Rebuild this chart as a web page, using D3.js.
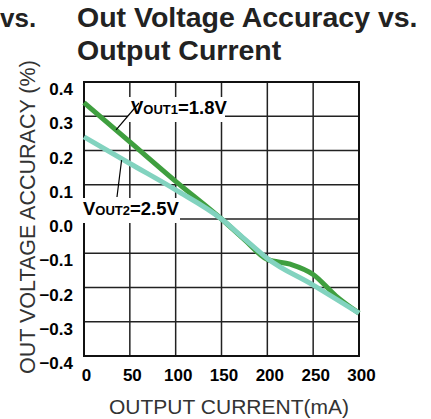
<!DOCTYPE html>
<html>
<head>
<meta charset="utf-8">
<script src="https://cdn.jsdelivr.net/npm/d3@7"></script>
<style>
  body { margin: 0; background: #fff; }
  svg { display: block; font-family: "Liberation Sans", Arial, Helvetica, sans-serif; }
</style>
</head>
<body>
<svg width="431" height="419"></svg>
<script>
// values
const currents1 = [0, 50, 100, 150, 175, 200, 225, 250, 275, 300];
const accuracy1 = [0.34, 0.225, 0.11, 0.0, -0.06, -0.118, -0.132, -0.162, -0.225, -0.275];
const currents2 = [0, 50, 100, 150, 175, 200, 250, 300];
const accuracy2 = [0.24, 0.162, 0.085, 0.0, -0.058, -0.115, -0.193, -0.275];
const xTicks = [0, 50, 100, 150, 200, 250, 300];
const yTicks = [-0.4, -0.3, -0.2, -0.1, 0.0, 0.1, 0.2, 0.3, 0.4];

const plot = { left: 84, right: 359, top: 82, bottom: 356 };
const green = '#3f9f3f';
const teal = '#82d3bf';

const svg = d3.select('svg');

const x = d3.scaleLinear().domain([0, 300]).range([plot.left, plot.right]);
const y = d3.scaleLinear().domain([-0.4, 0.4]).range([plot.bottom, plot.top]);

// titles (the "vs." on the left belongs to the neighbouring plot)
svg.append('text')
  .attr('x', 0)
  .attr('y', 27)
  .attr('font-size', 26)
  .attr('font-weight', 'bold')
  .attr('fill', '#222')
  .text('vs.');
svg.append('text')
  .attr('x', 77)
  .attr('y', 27)
  .attr('font-size', 28.5)
  .attr('font-weight', 'bold')
  .attr('fill', '#222')
  .text('Out Voltage Accuracy vs.');
svg.append('text')
  .attr('x', 77)
  .attr('y', 60)
  .attr('font-size', 28.5)
  .attr('font-weight', 'bold')
  .attr('fill', '#222')
  .text('Output Current');

// grid
const grid = svg.append('g').attr('stroke', '#222').attr('stroke-width', 1.5);
grid.selectAll('.vgrid')
  .data(xTicks)
  .enter()
  .append('line')
  .attr('class', 'vgrid')
  .attr('x1', d => x(d))
  .attr('x2', d => x(d))
  .attr('y1', plot.top)
  .attr('y2', plot.bottom);
grid.selectAll('.hgrid')
  .data(yTicks)
  .enter()
  .append('line')
  .attr('class', 'hgrid')
  .attr('x1', plot.left)
  .attr('x2', plot.right)
  .attr('y1', d => y(d))
  .attr('y2', d => y(d));

svg.append('rect')
  .attr('x', plot.left)
  .attr('y', plot.top)
  .attr('width', plot.right - plot.left)
  .attr('height', plot.bottom - plot.top)
  .attr('fill', 'none')
  .attr('stroke', '#111')
  .attr('stroke-width', 2);

// tick labels
const xAxis = svg.append('g')
  .attr('transform', `translate(0,${plot.bottom})`)
  .call(d3.axisBottom(x).tickValues(xTicks).tickSize(0).tickPadding(0));
xAxis.select('.domain').remove();
xAxis.selectAll('text')
  .attr('x', 2)
  .attr('y', 25)
  .attr('dy', 0)
  .attr('font-family', 'inherit')
  .attr('font-size', 17)
  .attr('font-weight', 'bold')
  .attr('fill', '#000');

const yAxis = svg.append('g')
  .attr('transform', `translate(${plot.left},0)`)
  .call(d3.axisLeft(y).tickValues(yTicks).tickFormat(d3.format('.1f')).tickSize(0).tickPadding(11));
yAxis.select('.domain').remove();
yAxis.selectAll('text')
  .attr('dy', 12.5)
  .attr('font-family', 'inherit')
  .attr('font-size', 17)
  .attr('font-weight', 'bold')
  .attr('fill', '#000');

// axis titles
svg.append('text')
  .attr('x', 229)
  .attr('y', 414)
  .attr('text-anchor', 'middle')
  .attr('font-size', 21)
  .attr('fill', '#333')
  .text('OUTPUT CURRENT(mA)');
svg.append('text')
  .attr('transform', 'translate(35,374) rotate(-90)')
  .attr('font-size', 21.5)
  .attr('fill', '#333')
  .text('OUT VOLTAGE ACCURACY (%)');

// curves
const line = d3.line()
  .x(d => x(d[0]))
  .y(d => y(d[1]))
  .curve(d3.curveMonotoneX);

svg.append('path')
  .datum(d3.zip(currents1, accuracy1))
  .attr('d', line)
  .attr('fill', 'none')
  .attr('stroke', green)
  .attr('stroke-width', 5);
svg.append('path')
  .datum(d3.zip(currents2, accuracy2))
  .attr('d', line)
  .attr('fill', 'none')
  .attr('stroke', teal)
  .attr('stroke-width', 5);

// labels with white boxes and leader lines
function label(tx, ty, sub, value, boxW) {
  const g = svg.append('g');
  g.append('rect')
    .attr('x', tx - 3)
    .attr('y', ty - 17)
    .attr('width', boxW)
    .attr('height', 25)
    .attr('fill', '#fff');
  const t = g.append('text')
    .attr('x', tx)
    .attr('y', ty)
    .attr('font-size', 18.5)
    .attr('font-weight', 'bold')
    .attr('fill', '#000');
  t.append('tspan').text('V');
  t.append('tspan').attr('font-size', 13).text(sub);
  t.append('tspan').text(value);
}

label(131, 114, 'OUT1', '=1.8V', 97);
label(83, 215, 'OUT2', '=2.5V', 100);

svg.append('line')
  .attr('x1', 139).attr('y1', 103)
  .attr('x2', x(35)).attr('y2', y(0.26))
  .attr('stroke', '#000').attr('stroke-width', 1.2);
svg.append('line')
  .attr('x1', 117).attr('y1', 197)
  .attr('x2', x(41)).attr('y2', y(0.172))
  .attr('stroke', '#000').attr('stroke-width', 1.2);
</script>
</body>
</html>
